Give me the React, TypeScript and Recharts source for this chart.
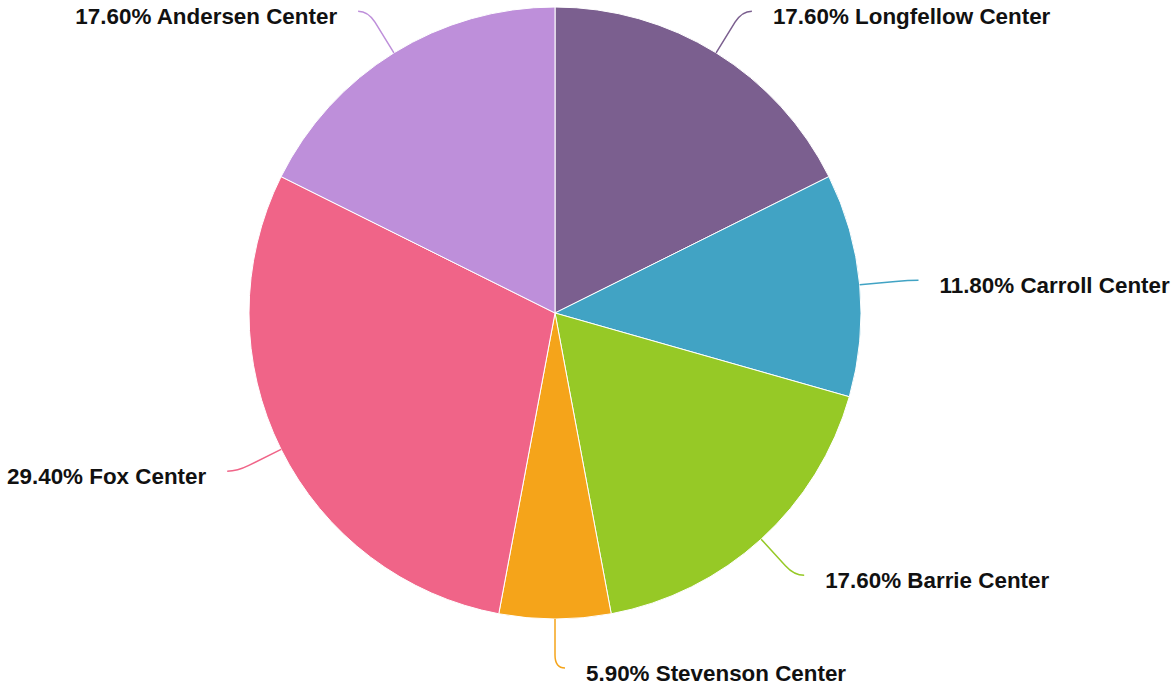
import React from 'react';
import { PieChart, Pie, Cell } from 'recharts';

const CENTERS = ['Longfellow Center', 'Carroll Center', 'Barrie Center', 'Stevenson Center', 'Fox Center', 'Andersen Center'];
const COUNTS = [3, 2, 3, 1, 5, 3];
const COLORS = ['#7b5f8f', '#41a3c4', '#96c926', '#f5a41a', '#f06488', '#be8fda'];

const data = CENTERS.map((name, i) => ({ name, value: COUNTS[i] }));

const RADIAN = Math.PI / 180;

// label with a bent leader line
const renderLabel = ({ cx, cy, midAngle, outerRadius, percent, name, index }: any) => {
  const cos = Math.cos(-midAngle * RADIAN);
  const sin = Math.sin(-midAngle * RADIAN);
  const right = cos >= 0;
  const sx = cx + outerRadius * cos;
  const sy = cy + outerRadius * sin;
  const mx = cx + (outerRadius + 36) * cos;
  const my = cy + (outerRadius + 36) * sin;
  const kx = cx + (outerRadius + 49) * cos;
  const ky = cy + (outerRadius + 49) * sin;
  const ex = kx + (right ? 10 : -10);
  const ey = ky;
  const pct = (Math.round(percent * 1000) / 10).toFixed(2);
  return (
    <g>
      <path
        d={`M${sx},${sy} L${mx},${my} Q${kx},${ky} ${ex},${ey}`}
        stroke={COLORS[index % COLORS.length]}
        strokeWidth={1.5}
        fill="none"
      />
      <text
        x={ex + (right ? 21 : -21)}
        y={ey + 5}
        textAnchor={right ? 'start' : 'end'}
        dominantBaseline="central"
        fontFamily="'Liberation Sans', Arial, sans-serif"
        fontWeight="bold"
        fontSize={22.4}
        fill="#111"
      >
        {`${pct}% ${name}`}
      </text>
    </g>
  );
};

export default function App() {
  return (
    <div style={{ position: 'fixed', left: 0, top: 0, background: '#fff' }}>
      <PieChart width={1171} height={690} margin={{ top: 0, right: 0, bottom: 0, left: 0 }}>
        <Pie
          data={data}
          dataKey="value"
          nameKey="name"
          cx={555}
          cy={313}
          outerRadius={306}
          startAngle={90}
          endAngle={-270}
          stroke="#fff"
          strokeWidth={1}
          label={renderLabel}
          labelLine={false}
          isAnimationActive={false}
        >
          {data.map((entry, index) => (
            <Cell key={`cell-${index}`} fill={COLORS[index % COLORS.length]} />
          ))}
        </Pie>
      </PieChart>
    </div>
  );
}
